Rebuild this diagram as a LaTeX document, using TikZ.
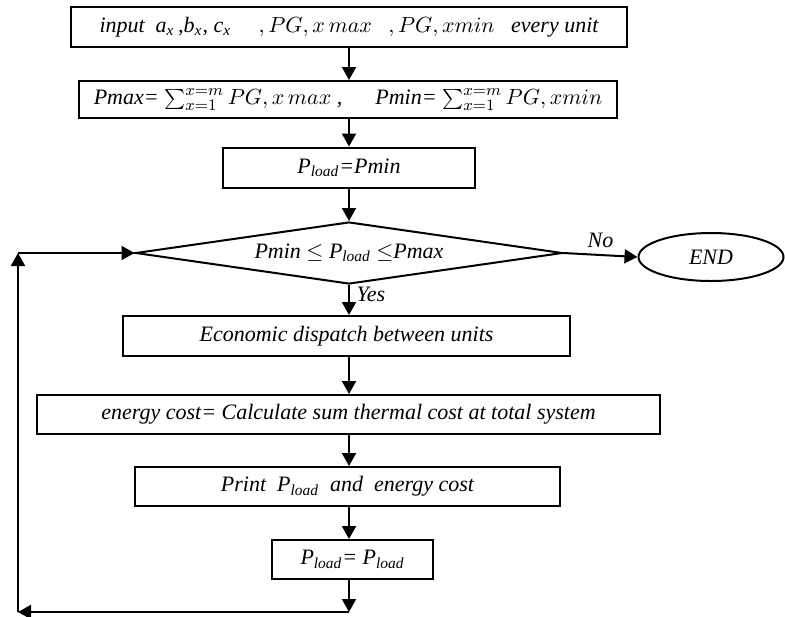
\documentclass[tikz,border=0pt]{standalone}
\usepackage{fontspec}
\setmainfont{Liberation Serif}[ItalicFont={Liberation Serif Italic}]
\usetikzlibrary{shapes.geometric, arrows.meta}

\begin{document}
\begin{tikzpicture}[
    x=0.5pt,
    y=-0.5pt,
    process/.style={
        draw=black,
        line width=1pt,
        fill=white,
        inner sep=0pt,
        align=center,
        font=\itshape\fontsize{11}{13}\selectfont
    },
    decision/.style={
        diamond,
        aspect=6.9,
        draw=black,
        line width=1pt,
        inner sep=0pt,
        minimum width=213.5pt,
        minimum height=31pt,
        font=\itshape\fontsize{11}{13}\selectfont
    },
    terminal/.style={
        ellipse,
        draw=black,
        line width=1pt,
        inner sep=0pt,
        minimum width=72.5pt,
        minimum height=24pt,
        font=\itshape\fontsize{11}{13}\selectfont
    },
    flow/.style={
        ->,
        >={Triangle[length=6.5pt, width=7pt]},
        line width=1pt
    },
    tag/.style={font=\itshape\fontsize{11}{13}\selectfont}
]
    \useasboundingbox (0,0) rectangle (785,616);

    % ==========================================
    % NODES PLACEMENT
    % ==========================================

    % Input data (Top)
    \node[process, minimum width=278pt, minimum height=20pt] (Input) at (349, 27)
        {input\ \ \textit{a}\textsubscript{\textit{x}}\,,\textit{b}\textsubscript{\textit{x}},\ \textit{c}\textsubscript{\textit{x}}\quad\ $,PG,x\,max$\ \ \ $,PG,xmin$\ \ \ every unit};

    % Limits of generation
    \node[process, minimum width=269pt, minimum height=18.5pt] (Limits) at (348, 99.5)
        {Pmax= $\sum_{x=1}^{x=m}PG,x\,max$\ ,\quad\ \ Pmin= $\sum_{x=1}^{x=m}PG,xmin$};

    % Start load
    \node[process, minimum width=126pt, minimum height=20pt] (Start) at (349, 167.5)
        {P\textsubscript{load}=Pmin};

    % Decision
    \node[decision] (Check) at (349, 253)
        {Pmin $\le$ P\textsubscript{load} $\le$Pmax};

    % End
    \node[terminal] (End) at (711, 257) {END};

    % Dispatch loop
    \node[process, minimum width=223.5pt, minimum height=20pt] (Dispatch) at (346.5, 336)
        {Economic dispatch between units};
    \node[process, minimum width=311.5pt, minimum height=19.5pt] (Cost) at (348.5, 414.5)
        {energy cost= Calculate sum thermal cost at total system};
    \node[process, minimum width=212.5pt, minimum height=19.5pt] (Print) at (347.5, 486.5)
        {Print\ \ P\textsubscript{load}\ \ and\ \ energy cost};
    \node[process, minimum width=80.5pt, minimum height=19.5pt] (Update) at (352.5, 559.5)
        {P\textsubscript{load}= P\textsubscript{load}};

    % Loop corners
    \coordinate (LoopBottom) at (349, 612);
    \coordinate (LoopLeft) at (18, 612);
    \coordinate (LoopTop) at (18, 253);

    % ==========================================
    % CONNECTIONS
    % ==========================================

    \draw[flow] (Input.south -| Check.north) -- (Limits.north -| Check.north);
    \draw[flow] (Limits.south -| Check.north) -- (Start.north -| Check.north);
    \draw[flow] (Start.south -| Check.north) -- (Check.north);

    % No -> End
    \draw[flow] (Check.east) -- (End.west) node[midway, above, tag] {No};

    % Yes -> Dispatch
    \draw[flow] (Check.south) -- (Check.south |- Dispatch.north) node[pos=0.3, right, tag] {Yes};

    \draw[flow] (Dispatch.south -| Check.north) -- (Cost.north -| Check.north);
    \draw[flow] (Cost.south -| Check.north) -- (Print.north -| Check.north);
    \draw[flow] (Print.south -| Check.north) -- (Update.north -| Check.north);

    % Back to the check
    \draw[flow] (Update.south -| Check.north) -- (LoopBottom);
    \draw[flow] (LoopBottom) -- (LoopLeft);
    \draw[flow] (LoopLeft) -- (LoopTop);
    \draw[flow] (LoopTop) -- (Check.west);

\end{tikzpicture}
\end{document}
